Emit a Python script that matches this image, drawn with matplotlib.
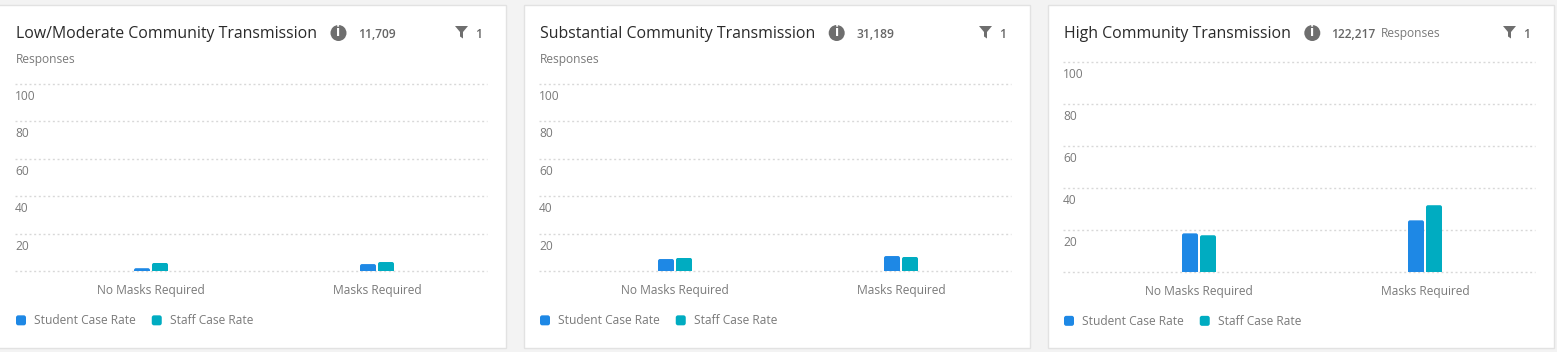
import matplotlib
matplotlib.use("Agg")
import matplotlib.pyplot as plt
from matplotlib.patches import Rectangle, FancyBboxPatch, Circle, Polygon, Patch
from matplotlib.legend_handler import HandlerPatch
from matplotlib.transforms import ScaledTranslation

plt.rcParams['font.family'] = ['Open Sans', 'DejaVu Sans']

W, H = 1557, 352
categories = ["No Masks Required", "Masks Required"]
titles = ["Low/Moderate Community Transmission", "Substantial Community Transmission", "High Community Transmission"]
counts = ["11,709", "31,189", "122,217"]
filters = ["1", "1", "1"]
student_rate = [[1.5, 3.7], [6.4, 8.0], [18.4, 24.6]]
staff_rate = [[4.3, 4.8], [7.0, 7.5], [17.5, 31.8]]
y_ticks = [0, 20, 40, 60, 80, 100]
y_labels = ["", "20", "40", "60", "80", "100"]
series_names = ["Student Case Rate", "Staff Case Rate"]

BLUE, TEAL = "#1e88e5", "#00acc1"
GREY, DARK, MID = "#7a7a7a", "#2a2a2a", "#666666"
FS_SMALL = 8.65

offsets = [0, 524, 1048]
card_left = [-18, 524, 1048]
plot_top = [84, 84, 62]
plot_bot = [271, 271, 272]
xlabel_y = [290, 290, 291]
legend_y = [321, 321, 321.5]
info_x = [338.5, 836.7, 1312.3]
count_x = [358.5, 856.5, 1331.5]

fig = plt.figure(figsize=(W / 100, H / 100), dpi=100, facecolor="#f3f3f3")
ov = fig.add_axes([0, 0, 1, 1], zorder=0)
ov.set_xlim(0, W)
ov.set_ylim(H, 0)
ov.axis("off")


class RoundHandler(HandlerPatch):
    def create_artists(self, legend, orig, xd, yd, w, h, fs, trans):
        s = 10 * 0.72
        y0 = (h - s) / 2 - yd
        p = FancyBboxPatch((-xd + 1.5, y0 + 1.5), s - 3, s - 3,
                           boxstyle="round,pad=1.5,rounding_size=1.6",
                           fc=orig.get_facecolor(), ec="none", transform=trans)
        return [p]


for i, dx in enumerate(offsets):
    ov.add_patch(Rectangle((card_left[i], 5), dx + 506 - card_left[i], 342.5, fc="white", ec="#e2e2e2", lw=1))

    ov.text(dx + 16, 34, titles[i], fontsize=11.47, color=DARK, va="center", ha="left")
    ov.add_patch(Circle((info_x[i], 33), 8, fc="#6e6e6e", ec="none"))
    ov.text(info_x[i], 32.5, "i", fontsize=10, color="white", weight="bold", ha="center", va="center")
    ov.text(count_x[i], 34, counts[i], fontsize=FS_SMALL, color=MID, weight="semibold", va="center", ha="left")
    if i == 2:
        ov.text(count_x[i] + 49.5, 34, "Responses", fontsize=FS_SMALL, color=GREY, va="center", ha="left")
    else:
        ov.text(dx + 16, 59.5, "Responses", fontsize=FS_SMALL, color=GREY, va="center", ha="left")
    fx = dx + 455
    ov.add_patch(Polygon([(fx, 26), (fx + 13, 26), (fx + 8, 32), (fx + 8, 38.5), (fx + 5, 36.5), (fx + 5, 32)],
                         closed=True, fc="#6e6e6e", ec="none"))
    ov.text(dx + 475, 35, filters[i], fontsize=FS_SMALL, color=MID, weight="semibold", va="center", ha="left")

    left, right = dx + 15, dx + 487
    ax = fig.add_axes([left / W, 1 - plot_bot[i] / H, (right - left) / W, (plot_bot[i] - plot_top[i]) / H],
                      facecolor="none", zorder=2)
    unit = 226.0
    c0 = dx + 151
    ax.set_xlim((left - c0) / unit, (right - c0) / unit)
    ax.set_ylim(0, 100)
    bw = 16 / unit
    gap = 2 / unit
    s_bars = ax.bar([k - (bw + gap) / 2 for k in range(2)], student_rate[i], bw, color=BLUE, zorder=3)
    t_bars = ax.bar([k + (bw + gap) / 2 for k in range(2)], staff_rate[i], bw, color=TEAL, zorder=3)

    for sp in ax.spines.values():
        sp.set_visible(False)
    ax.set_axisbelow(True)
    ax.set_yticks(y_ticks, y_labels)
    ax.grid(axis="y", color="#d8d8d8", lw=1.0, linestyle=(0, (1.44, 1.92)), clip_on=False)
    ax.tick_params(axis="y", length=0, pad=0, labelsize=FS_SMALL, labelcolor=GREY)
    for lab in ax.get_yticklabels():
        lab.set_ha("left")
        lab.set_transform(lab.get_transform() + ScaledTranslation(0, -11 / 100, fig.dpi_scale_trans))
    ax.set_xticks(range(2), categories)
    ax.tick_params(axis="x", length=0, pad=(xlabel_y[i] - plot_bot[i] - 6) * 0.72, labelsize=FS_SMALL, labelcolor=GREY)

    fig.canvas.draw()
    for b in list(s_bars) + list(t_bars):
        e = b.get_window_extent()
        clip = FancyBboxPatch((e.x0 + 2, e.y0 - 6), e.width - 4, e.height + 4,
                              boxstyle="round,pad=2,rounding_size=2", transform=None)
        b.set_clip_path(clip)

    hs = [Patch(color=BLUE, label=series_names[0]), Patch(color=TEAL, label=series_names[1])]
    ax.legend(handles=hs, handler_map={Patch: RoundHandler()}, loc="center left",
              bbox_to_anchor=(dx + 16, legend_y[i]), bbox_transform=ov.transData,
              frameon=False, ncols=2, fontsize=FS_SMALL, labelcolor=GREY,
              borderpad=0, borderaxespad=0, handlelength=0.83, handleheight=0.83,
              handletextpad=0.67, columnspacing=1.33)

fig.savefig("out.png", dpi=100, facecolor=fig.get_facecolor())
